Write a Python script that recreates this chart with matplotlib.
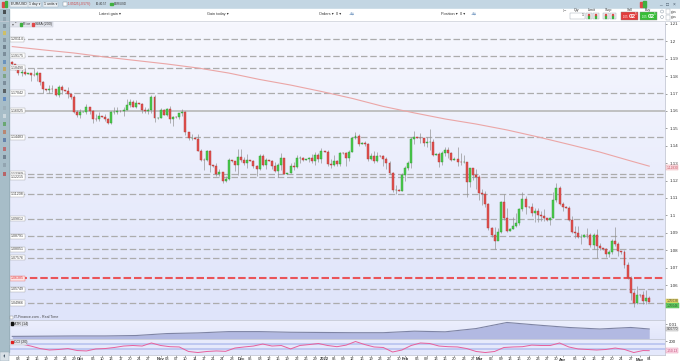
import numpy as np
import pandas as pd
import matplotlib
matplotlib.use("Agg")
import matplotlib.pyplot as plt
from matplotlib.patches import Rectangle, Circle
from matplotlib.colors import LinearSegmentedColormap

plt.rcParams['font.family'] = ['Liberation Sans', 'DejaVu Sans']

W, H = 680, 361

# ---------- Data (EUR/USD daily, Sun-Fri candles) ----------
start_date = "2021-09-06"
end_date = "2022-05-04"
first_open = 1.1880

closes = [
    1.1868, 1.1840, 1.1818, 1.1826, 1.1813,
    1.1816, 1.1807, 1.1804, 1.1819, 1.1765, 1.1725,
    1.1722, 1.1727, 1.1724, 1.1689, 1.1740, 1.1720,
    1.1717, 1.1696, 1.1683, 1.1597, 1.1578, 1.1595,
    1.1597, 1.1620, 1.1598, 1.1555, 1.1553, 1.1570,
    1.1566, 1.1552, 1.1529, 1.1594, 1.1597, 1.1600,
    1.1598, 1.1608, 1.1634, 1.1654, 1.1623, 1.1643,
    1.1641, 1.1608, 1.1599, 1.1604, 1.1682, 1.1557,
    1.1561, 1.1607, 1.1578, 1.1611, 1.1555, 1.1567,
    1.1563, 1.1587, 1.1592, 1.1478, 1.1445, 1.1445,
    1.1441, 1.1369, 1.1320, 1.1319, 1.1370, 1.1289,
    1.1283, 1.1237, 1.1250, 1.1197, 1.1209, 1.1318,
    1.1312, 1.1290, 1.1337, 1.1320, 1.1301, 1.1316,
    1.1314, 1.1285, 1.1268, 1.1343, 1.1292, 1.1318,
    1.1314, 1.1285, 1.1258, 1.1287, 1.1331, 1.1239,
    1.1242, 1.1285, 1.1280, 1.1327, 1.1328, 1.1320,
    1.1322, 1.1329, 1.1311, 1.1349, 1.1325, 1.1370,
    1.1367, 1.1295, 1.1289, 1.1315, 1.1295, 1.1360,
    1.1357, 1.1327, 1.1365, 1.1442, 1.1454, 1.1413,
    1.1414, 1.1409, 1.1324, 1.1343, 1.1311, 1.1343,
    1.1341, 1.1326, 1.1302, 1.1243, 1.1144, 1.1147,
    1.1143, 1.1234, 1.1271, 1.1302, 1.1441, 1.1451,
    1.1447, 1.1442, 1.1415, 1.1423, 1.1424, 1.1349,
    1.1352, 1.1306, 1.1360, 1.1377, 1.1360, 1.1320,
    1.1326, 1.1309, 1.1307, 1.1307, 1.1192, 1.1270,
    1.1230, 1.1219, 1.1127, 1.1121, 1.1064, 1.0930,
    1.0885, 1.0855, 1.0905, 1.1076, 1.0985, 1.0912,
    1.0922, 1.0941, 1.0955, 1.1037, 1.1092, 1.1051,
    1.1048, 1.1016, 1.1027, 1.1005, 1.0996, 1.0983,
    1.0972, 1.0984, 1.1088, 1.1160, 1.1067, 1.1046,
    1.1044, 1.0971, 1.0903, 1.0900, 1.0876, 1.0876,
    1.0888, 1.0886, 1.0830, 1.0890, 1.0826, 1.0810,
    1.0808, 1.0780, 1.0787, 1.0853, 1.0835, 1.0797,
    1.0790, 1.0714, 1.0640, 1.0557, 1.0498, 1.0545,
    1.0540, 1.0509, 1.0523, 1.0504,
]
highs = [
    1.1885, 1.1870, 1.1845, 1.1844, 1.1849,
    1.1818, 1.1818, 1.1846, 1.1830, 1.1820, 1.1772,
    1.1728, 1.1749, 1.1751, 1.1729, 1.1750, 1.1749,
    1.1722, 1.1737, 1.1705, 1.1690, 1.1603, 1.1609,
    1.1601, 1.1641, 1.1624, 1.1604, 1.1580, 1.1595,
    1.1572, 1.1580, 1.1560, 1.1600, 1.1624, 1.1624,
    1.1603, 1.1623, 1.1669, 1.1667, 1.1665, 1.1664,
    1.1647, 1.1645, 1.1624, 1.1619, 1.1692, 1.1692,
    1.1566, 1.1616, 1.1614, 1.1616, 1.1626, 1.1570,
    1.1569, 1.1590, 1.1609, 1.1599, 1.1482, 1.1465,
    1.1447, 1.1465, 1.1384, 1.1330, 1.1374, 1.1373,
    1.1290, 1.1303, 1.1266, 1.1250, 1.1226, 1.1330,
    1.1318, 1.1302, 1.1383, 1.1383, 1.1334, 1.1353,
    1.1318, 1.1318, 1.1290, 1.1355, 1.1352, 1.1327,
    1.1320, 1.1316, 1.1307, 1.1301, 1.1361, 1.1332,
    1.1246, 1.1303, 1.1304, 1.1345, 1.1341, 1.1335,
    1.1326, 1.1335, 1.1350, 1.1366, 1.1360, 1.1386,
    1.1372, 1.1376, 1.1322, 1.1346, 1.1316, 1.1364,
    1.1363, 1.1365, 1.1375, 1.1448, 1.1482, 1.1467,
    1.1419, 1.1428, 1.1416, 1.1361, 1.1369, 1.1364,
    1.1346, 1.1347, 1.1335, 1.1313, 1.1248, 1.1175,
    1.1150, 1.1241, 1.1283, 1.1313, 1.1451, 1.1484,
    1.1452, 1.1475, 1.1446, 1.1449, 1.1495, 1.1437,
    1.1358, 1.1367, 1.1369, 1.1395, 1.1393, 1.1367,
    1.1333, 1.1395, 1.1360, 1.1345, 1.1303, 1.1274,
    1.1250, 1.1268, 1.1233, 1.1153, 1.1138, 1.1069,
    1.0935, 1.0935, 1.0928, 1.1080, 1.1121, 1.1042,
    1.0928, 1.0991, 1.1011, 1.1044, 1.1137, 1.1113,
    1.1055, 1.1069, 1.1045, 1.1044, 1.1023, 1.1036,
    1.0980, 1.0989, 1.1137, 1.1185, 1.1171, 1.1076,
    1.1052, 1.1054, 1.0999, 1.0937, 1.0938, 1.0893,
    1.0896, 1.0927, 1.0899, 1.0900, 1.0924, 1.0840,
    1.0814, 1.0813, 1.0804, 1.0866, 1.0936, 1.0848,
    1.0797, 1.0800, 1.0731, 1.0653, 1.0570, 1.0594,
    1.0548, 1.0565, 1.0570, 1.0535,
]
lows = [
    1.1857, 1.1837, 1.1804, 1.1800, 1.1806,
    1.1810, 1.1770, 1.1800, 1.1771, 1.1751, 1.1701,
    1.1716, 1.1701, 1.1707, 1.1684, 1.1683, 1.1698,
    1.1712, 1.1675, 1.1668, 1.1590, 1.1563, 1.1562,
    1.1592, 1.1583, 1.1580, 1.1529, 1.1545, 1.1545,
    1.1563, 1.1545, 1.1524, 1.1525, 1.1585, 1.1585,
    1.1595, 1.1571, 1.1607, 1.1623, 1.1620, 1.1619,
    1.1638, 1.1588, 1.1586, 1.1585, 1.1590, 1.1535,
    1.1554, 1.1560, 1.1575, 1.1570, 1.1529, 1.1513,
    1.1560, 1.1552, 1.1570, 1.1463, 1.1432, 1.1433,
    1.1438, 1.1369, 1.1310, 1.1263, 1.1313, 1.1249,
    1.1279, 1.1225, 1.1226, 1.1186, 1.1192, 1.1206,
    1.1306, 1.1258, 1.1235, 1.1306, 1.1287, 1.1274,
    1.1310, 1.1273, 1.1227, 1.1262, 1.1284, 1.1265,
    1.1311, 1.1265, 1.1251, 1.1222, 1.1261, 1.1236,
    1.1238, 1.1242, 1.1262, 1.1271, 1.1301, 1.1312,
    1.1317, 1.1306, 1.1300, 1.1290, 1.1306, 1.1300,
    1.1362, 1.1281, 1.1272, 1.1283, 1.1285, 1.1284,
    1.1352, 1.1285, 1.1315, 1.1363, 1.1438, 1.1399,
    1.1410, 1.1397, 1.1315, 1.1319, 1.1301, 1.1304,
    1.1337, 1.1281, 1.1264, 1.1236, 1.1137, 1.1121,
    1.1139, 1.1139, 1.1200, 1.1263, 1.1270, 1.1411,
    1.1443, 1.1417, 1.1399, 1.1395, 1.1376, 1.1341,
    1.1347, 1.1280, 1.1290, 1.1339, 1.1331, 1.1313,
    1.1320, 1.1285, 1.1289, 1.1300, 1.1106, 1.1166,
    1.1205, 1.1154, 1.1090, 1.1057, 1.1046, 1.0915,
    1.0877, 1.0806, 1.0870, 1.0900, 1.0972, 1.0904,
    1.0910, 1.0921, 1.0933, 1.0945, 1.1023, 1.1008,
    1.1044, 1.0999, 1.0962, 1.0964, 1.0966, 1.0966,
    1.0965, 1.0944, 1.0985, 1.1076, 1.1061, 1.1028,
    1.1040, 1.0968, 1.0901, 1.0872, 1.0870, 1.0838,
    1.0876, 1.0869, 1.0821, 1.0808, 1.0758, 1.0800,
    1.0803, 1.0759, 1.0759, 1.0780, 1.0823, 1.0764,
    1.0780, 1.0697, 1.0636, 1.0515, 1.0472, 1.0490,
    1.0533, 1.0491, 1.0493, 1.0500,
]

# SMA(200) sampled every 10 candles, plus the last candle
sma_200 = [1.1970, 1.1951, 1.1933, 1.1910, 1.1890, 1.1870, 1.1847, 1.1818,
           1.1781, 1.1749, 1.1712, 1.1672, 1.1626, 1.1589, 1.1554, 1.1525,
           1.1491, 1.1451, 1.1408, 1.1364, 1.1313, 1.1283]
# ATR(14) sampled every 10 candles, plus the last candle
atr_14 = [0.0043, 0.0044, 0.0045, 0.0045, 0.0047, 0.0056, 0.0059, 0.0065,
          0.0065, 0.0062, 0.0061, 0.0060, 0.0060, 0.0067, 0.0064, 0.0079,
          0.0107, 0.0095, 0.0084, 0.0077, 0.0084, 0.0077]
# CCI(20) sampled every 3 candles, plus the last candle
cci_20 = [140, 100, 25, -70, -125, -105, -70, -145, -160, -85,
          -70, -30, 25, 45, 25, 140, 45, 0, -10, -180,
          -220, -180, -160, -175, -50, -10, 25, 100, 25, 45,
          -85, 45, 80, 120, 45, 0, 60, 195, 80, -10,
          -30, -200, -125, 45, 140, 120, 25, 0, -10, -70,
          -180, -220, -180, -30, -10, 0, 60, 45, 45, 140,
          -10, -85, -105, -125, -105, -50, -105, -220, -145, -150]

level_values = [1.20114, 1.19175, 1.18490, 1.17042, 1.14483, 1.12369, 1.12215,
                1.11208, 1.09812, 1.08791, 1.08051, 1.07576, 1.05749, 1.04966]
solid_level = 1.16025
red_level = 1.06385

price_ticks = [1.21, 1.20, 1.19, 1.18, 1.17, 1.16, 1.15, 1.14, 1.13, 1.12,
               1.11, 1.10, 1.09, 1.08, 1.07, 1.06]


# ---------- Helpers ----------

def px_axes(x0, y0, x1, y1, z=1):
    return fig.add_axes([x0 / W, 1 - y1 / H, (x1 - x0) / W, (y1 - y0) / H], zorder=z)

def shade(ax, top, bottom):
    grad = np.linspace(0, 1, 64).reshape(-1, 1)
    cmap = LinearSegmentedColormap.from_list("bg", [top, bottom])
    ax.imshow(grad, aspect="auto", cmap=cmap, extent=(0, 1, 0, 1),
              transform=ax.transAxes, zorder=0, interpolation="bilinear")

def clean(ax):
    for s in ax.spines.values():
        s.set_color("#c4c8d4")
        s.set_linewidth(0.6)
    ax.tick_params(axis="x", bottom=False, labelbottom=False)
    ax.yaxis.tick_right()
    ax.tick_params(axis="y", labelsize=3.2, colors="#555555", length=1.5,
                   width=0.4, pad=1.5, labelcolor="#333333")

def tag(ax, y, s, fc, ec, tc, dy=0):
    ax.annotate(s, xy=(1.0, y), xycoords=ax.get_yaxis_transform(),
                xytext=(1.0, dy), textcoords="offset points", fontsize=2.3,
                color=tc, va="center", ha="left", annotation_clip=False,
                bbox=dict(boxstyle="square,pad=0.15", fc=fc, ec=ec, lw=0.3))


# ---------- Figure ----------
fig = plt.figure(figsize=(W / 100, H / 100), dpi=100)
fig.patch.set_facecolor("white")

n = len(closes)
x = np.arange(n)
closes_a = np.array(closes)
opens_a = np.r_[first_open, closes_a[:-1]]
highs_a = np.array(highs)
lows_a = np.array(lows)
dates = pd.date_range(start_date, end_date)
dates = dates[dates.dayofweek != 5]

x_left, x_right = -1.06, 211.1

# Price panel
ax = px_axes(9, 21, 665, 320)
shade(ax, "#f6f7fe", "#dfe4fa")
clean(ax)
for lv in level_values:
    ax.axhline(lv, color="#acacac", lw=0.9, dashes=(5.2, 2.2), zorder=2)
ax.axhline(solid_level, color="#bcbcbc", lw=1.3, zorder=2)
ax.axhline(red_level, color="#ea5459", lw=1.5, dashes=(3.6, 1.4), zorder=2)

sma_x = list(range(0, 201, 10)) + [n - 1]
ax.plot(sma_x, sma_200, color="#eba6a6", lw=0.8, zorder=2.5)

up = closes_a >= opens_a
ax.vlines(x, lows_a, highs_a, color="#8c8c8c", lw=0.45, zorder=3)
ax.bar(x[up], (closes_a - opens_a)[up], bottom=opens_a[up], width=0.64,
       color="#4ccb4c", edgecolor="#2f9a34", lw=0.3, zorder=4)
ax.bar(x[~up], (closes_a - opens_a)[~up], bottom=opens_a[~up], width=0.64,
       color="#e2524f", edgecolor="#b23535", lw=0.3, zorder=4)

ax.set_xlim(x_left, x_right)
ax.set_ylim(1.0399, 1.2117)
ax.set_yticks(price_ticks)
ax.set_yticklabels(["%g" % t for t in price_ticks])

lab_tf = ax.get_yaxis_transform()
for lv in level_values + [solid_level]:
    ax.text(0.003, lv, "%.5f" % lv, transform=lab_tf, fontsize=2.6, color="#444444",
            va="center", ha="left", zorder=6,
            bbox=dict(boxstyle="square,pad=0.2", fc="white", ec="#a0a0a0", lw=0.3))
ax.text(0.003, red_level, "%.5f" % red_level, transform=lab_tf, fontsize=2.6,
        color="#e03c44", va="center", ha="left", zorder=6,
        bbox=dict(boxstyle="square,pad=0.2", fc="#fde3e3", ec="#ea6a6a", lw=0.3))

tag(ax, sma_200[-1], "%.5f" % sma_200[-1], "#fbe0e4", "#e9a0a8", "#c44a5a", dy=-1.0)
tag(ax, closes[-1], "1.05038", "#f4e46c", "#c8b840", "#333333", dy=0.5)
tag(ax, closes[-1], "1.05046", "#6cd36c", "#3ea43e", "#1d4d1d", dy=-2.8)

# ATR panel
ax_atr = px_axes(9, 320, 665, 339)
shade(ax_atr, "#eceffd", "#e2e6fa")
clean(ax_atr)
atr_x = list(range(0, 201, 10)) + [n - 1]
ax_atr.fill_between(atr_x, 0, atr_14, color="#b2b9e2", zorder=2, lw=0)
ax_atr.plot(atr_x, atr_14, color="#7e84a4", lw=0.8, zorder=3)
ax_atr.set_xlim(x_left, x_right)
ax_atr.set_ylim(0.0031, 0.01184)
ax_atr.set_yticks([0.01])
ax_atr.set_yticklabels(["0.01"])
tag(ax_atr, atr_14[-1], "0.00770", "#e6e6e6", "#9a9a9a", "#333333")

# CCI panel
ax_cci = px_axes(9, 339, 665, 355)
shade(ax_cci, "#e8ebfc", "#e4e8fb")
clean(ax_cci)
for band in (100, -100):
    ax_cci.axhline(band, color="#b4bfee", lw=1.1, zorder=1)
cci_x = list(range(0, 205, 3)) + [n - 1]
ax_cci.plot(cci_x, cci_20, color="#e8609c", lw=0.7, zorder=3)
ax_cci.set_xlim(x_left, x_right)
ax_cci.set_ylim(-313, 290)
ax_cci.set_yticks([200])
ax_cci.set_yticklabels(["200"])
tag(ax_cci, cci_20[-1], "-150.13", "#fbdde8", "#e68aae", "#c03a70")

# Date axis: month names at first candle, day numbers every 3 candles
month_pos, month_lab = [], []
for i in range(1, n):
    if dates[i].month != dates[i - 1].month:
        month_pos.append(i)
        month_lab.append("2022" if dates[i].month == 1 else dates[i].strftime("%b"))
day_pos, day_lab = [], []
for i in range(n):
    if (i + 4) % 3 == 0 and min(abs(i - m) for m in month_pos) >= 2:
        day_pos.append(i)
        day_lab.append(dates[i].strftime("%d"))
ticks = day_pos + month_pos
labels = day_lab + month_lab
ax_cci.set_xticks(ticks)
ax_cci.set_xticklabels(labels)
ax_cci.tick_params(axis="x", bottom=True, labelbottom=True, labelsize=3,
                   length=1.2, width=0.4, pad=0.6, colors="#666666",
                   labelcolor="#333333")
for t in ax_cci.get_xticklabels():
    if t.get_text() in month_lab:
        t.set_fontweight("bold")

# ---------- Window chrome ----------
ui = px_axes(0, 0, W, H, z=10)
ui.set_xlim(0, W)
ui.set_ylim(H, 0)
ui.axis("off")
ui.patch.set_visible(False)

ui.add_patch(Rectangle((0, 0), W, 8.5, color="#c3d6e3", zorder=1))
ui.add_patch(Rectangle((0, 8.5), W, 12.5, color="white", zorder=1))
ui.plot([0, W], [20.8, 20.8], color="#c8ccd6", lw=0.5)

# top bar items
ui.add_patch(Rectangle((2, 2), 2, 5, color="#e04848", zorder=2))
ui.add_patch(Rectangle((4.5, 1), 2, 6, color="#40b040", zorder=2))
top_items = [(11, "EUR/USD \u25be"), (29, "1 day \u25be"), (44, "1 units \u25be")]
for tx, s in top_items:
    ui.text(tx, 4.3, s, fontsize=2.5, color="#222222", va="center", ha="left", zorder=3,
            bbox=dict(boxstyle="square,pad=0.2", fc="#e9eff4", ec="#9fb3c2", lw=0.3))
ui.add_patch(Rectangle((63, 2), 4, 4, fc="white", ec="#7a8a98", lw=0.3, zorder=2))
ui.text(68.5, 4.3, "1.05025 (-0.57%)", fontsize=2.1, color="#d03030", va="center", zorder=3)
ui.text(96, 4.3, "16:40:57", fontsize=2.1, color="#333333", va="center", zorder=3)
ui.add_patch(Rectangle((110, 2.6), 2.8, 2.8, color="#40b040", zorder=2))
ui.text(113.5, 4.3, "EUR/USD", fontsize=2.1, color="#333333", va="center", zorder=3)
ui.add_patch(Rectangle((640, 1.5), 2.5, 5, color="#e04848", zorder=2))
ui.add_patch(Rectangle((643, 1), 2.5, 6, color="#40b040", zorder=2))
for tx, s in [(660, "_"), (667, "\u25a1"), (674, "\u00d7")]:
    ui.text(tx, 4, s, fontsize=3.5, color="#445566", va="center", ha="center", zorder=3)

# second bar
for tx, s in [(110, "Latest gain \u25be"), (218, "Gain today \u25be"),
              (330, "Orders \u25be  0 \u25be"), (453, "Position \u25be  0 \u25be")]:
    ui.text(tx, 14.3, s, fontsize=2.8, color="#333333", va="center", ha="center", zorder=3)
ui.text(349, 14.3, "+\u21c6", fontsize=3, color="#3a6ea8", va="center", zorder=3)
ui.text(471, 14.3, "+\u21c6", fontsize=3, color="#3a6ea8", va="center", zorder=3)

ui.text(565, 11.5, "\u2702", fontsize=3, color="#555555", va="center", ha="center", zorder=3)
ui.text(577, 10.3, "Qty", fontsize=2.6, color="#333333", va="center", ha="center", zorder=3)
ui.add_patch(Rectangle((570, 12.5), 15, 6, fc="white", ec="#9aa6b0", lw=0.3, zorder=2))
ui.text(584, 15.5, "1", fontsize=2.6, color="#333333", va="center", ha="right", zorder=3)
ui.text(592, 10.3, "Limit", fontsize=2.6, color="#333333", va="center", ha="center", zorder=3)
ui.text(609, 10.3, "Stop", fontsize=2.6, color="#333333", va="center", ha="center", zorder=3)
for bx in (586, 593, 603, 610):
    ui.add_patch(Rectangle((bx, 12.5), 6, 6.5, fc="#eef1f4", ec="#9aa6b0", lw=0.3, zorder=2))
    ui.add_patch(Rectangle((bx + 1.5, 14), 1.5, 1.5, color="#e04848", zorder=3))
    ui.add_patch(Rectangle((bx + 1.5, 16), 1.5, 1.5, color="#40b040", zorder=3))
ui.text(630, 10.3, "Sell", fontsize=2.6, color="#333333", va="center", ha="center", zorder=3)
ui.text(648, 10.3, "Buy", fontsize=2.6, color="#333333", va="center", ha="center", zorder=3)
for bx, fc in ((621, "#e23b3b"), (640, "#35be35")):
    ui.add_patch(Rectangle((bx, 12), 16.5, 8, fc=fc, ec="#888888", lw=0.3, zorder=2))
    ui.text(bx + 5, 17, "1.05", fontsize=2, color="white", va="center", ha="center", zorder=3)
    ui.text(bx + 11, 16, "02", fontsize=4.6, color="white", va="center", ha="center",
            fontweight="bold", zorder=3)
    ui.text(bx + 15, 14, "5", fontsize=2, color="white", va="center", ha="center", zorder=3)
for cy in (11.5, 17):
    ui.add_patch(Circle((662, cy), 1.5, fc="white", ec="#7a8a98", lw=0.3, zorder=2))
    ui.add_patch(Rectangle((666, cy - 2.5), 4, 5, fc="white", ec="#9aa6b0", lw=0.3, zorder=2))
    ui.text(671, cy, "pips", fontsize=2.2, color="#333333", va="center", zorder=3)

# left tool column
ui.add_patch(Rectangle((0, 8.5), 9, 343.5, color="#a7bdc8", zorder=1))
ui.plot([9, 9], [8.5, 352], color="#8fa6b2", lw=0.4)
icon_y = [12, 19, 26, 33, 40, 47, 54, 62, 69, 76, 83, 91, 99, 108, 116, 124, 132, 140,
          149, 157, 165, 174]
icon_c = ["#222222", "#8a9aa6", "#6a7a88", "#e0c040", "#7a8a98", "#5a6a78", "#6a7a88",
          "#5080b8", "#c8a040", "#6a9a6a", "#6a7a88", "#3a3a3a", "#4a7ac0", "#9aaab4",
          "#dde4e8", "#50a050", "#c07050", "#4a6aa0", "#c05050", "#5a6a7a", "#8a9aa6",
          "#c04040"]
for iy, ic in zip(icon_y, icon_c):
    ui.add_patch(Rectangle((3, iy - 1.6), 3.2, 3.2, fc=ic, ec="none", zorder=2, alpha=0.7))
ui.add_patch(Rectangle((0, 352), 9, 9, fc="#d8e0e6", ec="#8fa6b2", lw=0.3, zorder=2))
ui.text(4.5, 356.5, "\u25c2|", fontsize=2.6, color="#445566", va="center", ha="center", zorder=3)

# panel legends
ui.add_patch(Rectangle((9.5, 21.5), 43, 5.5, fc="#e2e4ec", ec="#c0c4d0", lw=0.3, zorder=2))
ui.text(11.5, 24.3, "\u25be", fontsize=2.8, color="#666666", va="center", zorder=3)
ui.text(15, 24.3, "\u2022", fontsize=3.2, color="#666666", va="center", zorder=3)
ui.add_patch(Rectangle((19.5, 22.8), 2.5, 2.8, color="#40b040", zorder=3))
ui.text(22.8, 24.3, "Price", fontsize=2.6, color="#333333", va="center", zorder=3)
ui.add_patch(Rectangle((31.5, 22.8), 2.5, 2.8, color="#e04848", zorder=3))
ui.text(34.8, 24.3, "SMA (200)", fontsize=2.6, color="#333333", va="center", zorder=3)

ui.add_patch(Rectangle((10, 316.2), 2.5, 2.5, fc="white", ec="#888888", lw=0.3, zorder=3))
ui.text(13.5, 317.5, "IT-Finance.com - Real Time", fontsize=2.6, color="#444444",
        va="center", zorder=3)

ui.add_patch(Rectangle((9.5, 321), 17, 5, fc="#e0e2ea", ec="#c0c4d0", lw=0.3, zorder=2))
ui.add_patch(Rectangle((10.5, 322.3), 2.4, 2.4, color="#111111", zorder=3))
ui.text(13.6, 323.5, "ATR (14)", fontsize=2.6, color="#333333", va="center", zorder=3)
ui.add_patch(Rectangle((9.5, 339.5), 17, 5, fc="#e0e2ea", ec="#c0c4d0", lw=0.3, zorder=2))
ui.add_patch(Rectangle((10.5, 340.8), 2.4, 2.4, color="#e02020", zorder=3))
ui.text(13.6, 342, "CCI (20)", fontsize=2.6, color="#333333", va="center", zorder=3)

fig.savefig("out.png", dpi=100, facecolor=fig.get_facecolor())
